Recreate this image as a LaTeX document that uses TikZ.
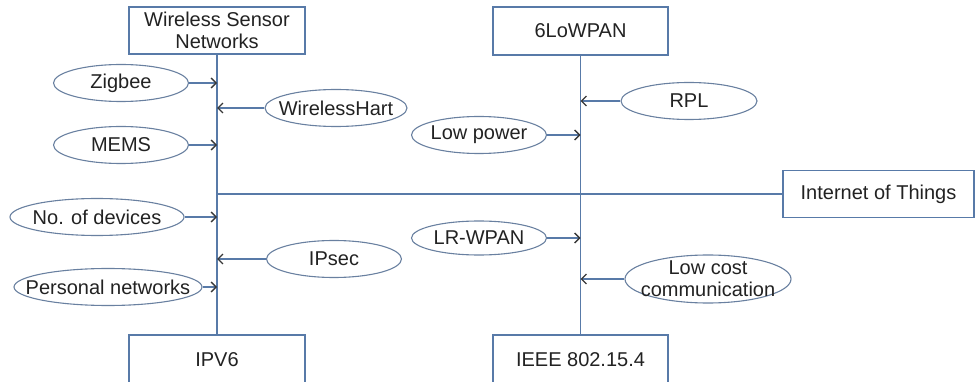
\documentclass[tikz,border=0pt]{standalone}
\usepackage{fontspec}
\setmainfont{Liberation Sans}
\usetikzlibrary{shapes.geometric,arrows.meta}
\definecolor{linec}{RGB}{88,122,168}
\definecolor{ovalc}{RGB}{105,128,160}
\definecolor{inkc}{RGB}{34,34,34}
\tikzset{
  every node/.style={text=inkc, font=\fontsize{20}{22}\selectfont},
  termbox/.style={draw=linec, line width=1.1pt, rectangle, inner sep=0pt, align=center},
  oval/.style={draw=ovalc, line width=1.1pt, ellipse, inner sep=0pt, minimum width=135pt, minimum height=37pt},
  spine/.style={draw=linec, line width=1.1pt},
  feed/.style={draw=linec, line width=1.1pt, -{Straight Barb[length=5pt,width=10pt,line width=1.3pt,color=inkc!90]}}
}
\begin{document}
\begin{tikzpicture}[x=1pt,y=-1pt]
\useasboundingbox (0,0) rectangle (975,382);

% terms at the four ends of the two spines
\node[termbox, minimum width=176pt, minimum height=47pt] (wsn) at (217,30.5) {Wireless Sensor\\Networks};
\node[termbox, minimum width=176pt, minimum height=50pt] (ipv6) at (217,360) {IPV6};
\node[termbox, minimum width=175pt, minimum height=48pt] (lowpan) at (580.5,31) {6LoWPAN};
\node[termbox, minimum width=175pt, minimum height=50pt] (ieee) at (580.5,360) {IEEE 802.15.4};
\node[termbox, minimum width=191pt, minimum height=47pt] (iot) at (878.5,194) {Internet of Things};

% spines and the link to the Internet of Things
\draw[spine] (wsn.south) -- (ipv6.north);
\draw[spine] (lowpan.south) -- (ieee.north);
\coordinate (hub) at (217,194);
\draw[spine] (hub) -- (iot.west);

% features around the WSN / IPV6 spine
\node[oval, label={center:Zigbee}] (zig) at (121,83) {};
\node[oval, minimum width=142pt, label={center:WirelessHart}] (whart) at (336,108) {};
\node[oval, label={center:MEMS}] (mems) at (121,145) {};
\node[oval, minimum width=174pt, label={center:No. of devices}] (devs) at (97,217) {};
\node[oval, label={center:IPsec}] (ipsec) at (334,259) {};
\node[oval, minimum width=188pt, label={center:Personal networks}] (pers) at (108,287) {};

\draw[feed] (zig.east) -- (zig.east -| wsn.south);
\draw[feed] (whart.west) -- (whart.west -| wsn.south);
\draw[feed] (mems.east) -- (mems.east -| wsn.south);
\draw[feed] (devs.east) -- (devs.east -| wsn.south);
\draw[feed] (ipsec.west) -- (ipsec.west -| wsn.south);
\draw[feed] (pers.east) -- (pers.east -| wsn.south);

% features around the 6LoWPAN / IEEE 802.15.4 spine
\node[oval, minimum width=136pt, label={center:RPL}] (rpl) at (689,101) {};
\node[oval, label={center:Low power}] (lpow) at (479,135) {};
\node[oval, minimum width=135pt, minimum height=34pt, label={center:LR-WPAN}] (lrw) at (479,238) {};
\node[oval, minimum width=166pt, minimum height=48pt, label={[align=center]center:Low cost\\communication}] (lcost) at (708,279) {};

\draw[feed] (rpl.west) -- (rpl.west -| lowpan.south);
\draw[feed] (lpow.east) -- (lpow.east -| lowpan.south);
\draw[feed] (lrw.east) -- (lrw.east -| lowpan.south);
\draw[feed] (lcost.west) -- (lcost.west -| lowpan.south);
\end{tikzpicture}
\end{document}
